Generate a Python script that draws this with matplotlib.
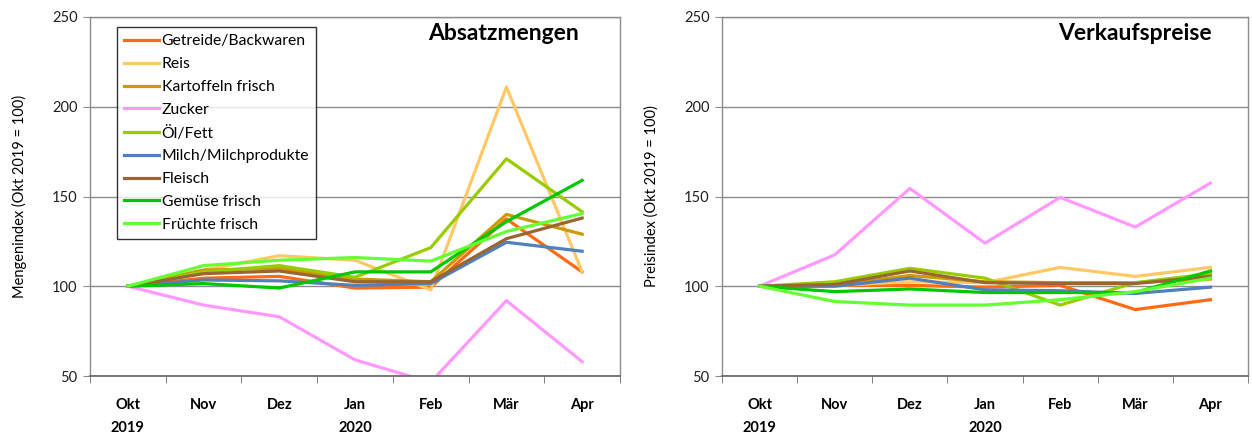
import matplotlib
matplotlib.use("Agg")
import matplotlib.pyplot as plt
from matplotlib.ticker import FixedLocator

plt.rcParams["font.family"] = ["Lato", "DejaVu Sans"]

months = ["Okt", "Nov", "Dez", "Jan", "Feb", "Mär", "Apr"]
years = {0: "2019", 3: "2020"}

series_names = [
    "Getreide/Backwaren",
    "Reis",
    "Kartoffeln frisch",
    "Zucker",
    "Öl/Fett",
    "Milch/Milchprodukte",
    "Fleisch",
    "Gemüse frisch",
    "Früchte frisch",
]
series_colors = [
    "#FF6A13",
    "#FFC866",
    "#CC9900",
    "#FF99FF",
    "#99CC00",
    "#4F81BD",
    "#996633",
    "#00C800",
    "#66FF33",
]

# Absatzmengen (Okt 2019 = 100)
absatz_getreide = [100, 104.5, 105.5, 99, 99.5, 137.5, 108]
absatz_reis = [100, 109, 117, 114.5, 98, 211, 108]
absatz_kartoffeln = [100, 109, 110, 104, 102.5, 140, 129]
absatz_zucker = [100, 89.5, 83, 59, 46.5, 92, 58]
absatz_oel = [100, 108, 111.5, 105, 121.5, 171, 141.5]
absatz_milch = [100, 103.5, 103, 100.5, 101.5, 124.5, 119.5]
absatz_fleisch = [100, 107, 108.5, 102.5, 102.5, 126.5, 138]
absatz_gemuese = [100, 101.5, 99, 108, 108, 136, 159]
absatz_fruechte = [100, 111.5, 114.5, 116, 114, 130.5, 140.5]

# Verkaufspreise (Okt 2019 = 100)
preis_getreide = [100, 100.5, 100.5, 99.5, 100.5, 87, 92.5]
preis_reis = [100, 100.5, 102.5, 102, 110.5, 105.5, 110.5]
preis_kartoffeln = [100, 100.5, 106, 102.5, 102, 102, 104]
preis_zucker = [100, 117.5, 154.5, 124, 149.5, 133, 157.5]
preis_oel = [100, 102.5, 110, 104.5, 89.5, 102, 107]
preis_milch = [100, 100, 104.5, 98, 97.5, 96, 99.5]
preis_fleisch = [100, 101, 108.5, 102, 101.5, 101.5, 105.5]
preis_gemuese = [100, 97, 98.5, 96.5, 96.5, 96.5, 108.5]
preis_fruechte = [100, 91.5, 89.5, 89.5, 92.5, 97, 104.5]

absatz = [absatz_getreide, absatz_reis, absatz_kartoffeln, absatz_zucker, absatz_oel,
          absatz_milch, absatz_fleisch, absatz_gemuese, absatz_fruechte]
preise = [preis_getreide, preis_reis, preis_kartoffeln, preis_zucker, preis_oel,
          preis_milch, preis_fleisch, preis_gemuese, preis_fruechte]

W, H = 1252, 437
fig = plt.figure(figsize=(W / 100, H / 100), dpi=100)

grid_col = "#8C8C8C"


def setup_axes(ax, ylabel, title, tx):
    x = range(len(months))
    ax.set_xlim(-0.5, len(months) - 0.5)
    ax.set_ylim(50, 250)
    ax.set_yticks([50, 100, 150, 200, 250])
    ax.yaxis.grid(True, color=grid_col, lw=1)
    ax.set_axisbelow(True)
    ax.set_xticks(list(x))
    ax.set_xticklabels(months, fontweight="bold", fontsize=10.5)
    ax.xaxis.set_minor_locator(FixedLocator([i - 0.5 for i in range(len(months) + 1)]))
    ax.tick_params(axis="x", which="major", length=0, pad=16)
    ax.tick_params(axis="x", which="minor", length=5, direction="out", color="#6E6E6E")
    ax.tick_params(axis="y", length=5, direction="out", color=grid_col, labelsize=10.5,
                   labelcolor="#202020", pad=4)
    for s in ["left", "right", "top"]:
        ax.spines[s].set_color(grid_col)
        ax.spines[s].set_linewidth(1)
    ax.spines["bottom"].set_color("#6E6E6E")
    ax.spines["bottom"].set_linewidth(1.3)
    ax.set_ylabel(ylabel, fontsize=10.5, labelpad=18)
    ax.text(tx, 0.955, title, transform=ax.transAxes, fontsize=16.5, fontweight="bold",
            ha="center", va="center")
    for i, yr in years.items():
        ax.text(i, -0.145, yr, transform=ax.get_xaxis_transform(), ha="center", va="center",
                fontsize=10.5, fontweight="bold")


ax1 = fig.add_axes([90 / W, 61 / H, 530 / W, 359 / H])
for name, col, vals in zip(series_names, series_colors, absatz):
    ax1.plot(range(len(months)), vals, color=col, lw=2.3, label=name)
setup_axes(ax1, "Mengenindex (Okt 2019 = 100)", "Absatzmengen", 0.78)
leg = ax1.legend(loc="upper left", bbox_to_anchor=(0.036, 0.993), fontsize=11.3,
                 frameon=True, fancybox=False, edgecolor="black", handlelength=2.2,
                 handletextpad=0.2, labelspacing=0.56, borderpad=0.45)
leg.get_frame().set_linewidth(1)

ax2 = fig.add_axes([722 / W, 61 / H, 526 / W, 359 / H])
for name, col, vals in zip(series_names, series_colors, preise):
    ax2.plot(range(len(months)), vals, color=col, lw=2.3, label=name)
setup_axes(ax2, "Preisindex (Okt 2019 = 100)", "Verkaufspreise", 0.785)

fig.savefig("out.png", dpi=100)
